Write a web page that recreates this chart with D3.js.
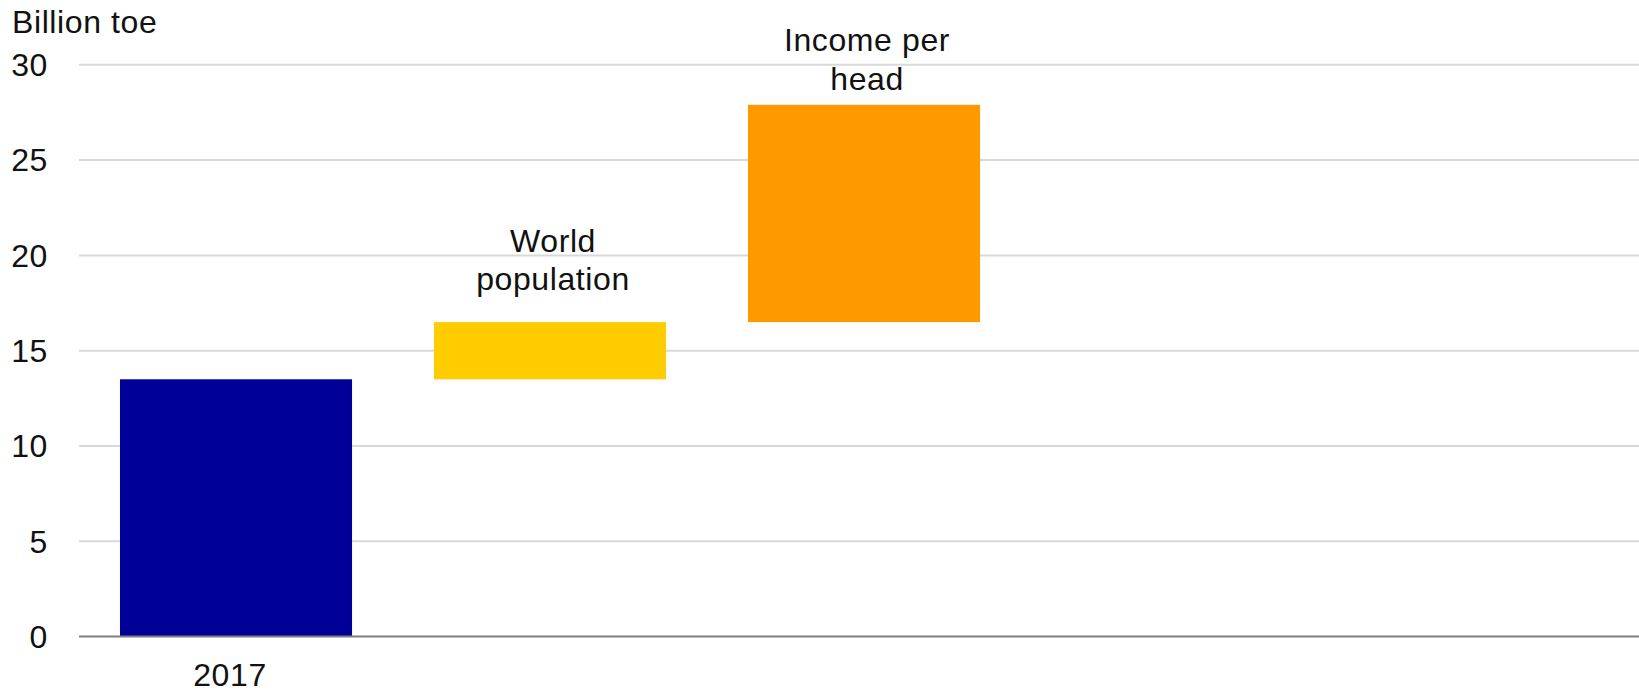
<!DOCTYPE html>
<html>
<head>
<meta charset="utf-8">
<script src="https://cdn.jsdelivr.net/npm/d3@7"></script>
<style>
  html, body { margin: 0; padding: 0; background: #fff; }
  svg text { font-family: "Liberation Sans", Arial, sans-serif; fill: #111; letter-spacing: 0.6px; }
</style>
</head>
<body>
<svg id="chart" width="1639" height="694"></svg>
<script>
// ---- data ----
const categories = ["2017", "World population", "Income per head", "c4", "c5"];
const barBase = [0, 13.5, 16.5];
const barTop = [13.5, 16.5, 27.9];
const barLabelsAbove = [null, ["World", "population"], ["Income per", "head"]];
const barLabelsBelow = ["2017", null, null];
const barColors = ["#000099", "#ffcc00", "#ff9900"];
const yTicks = [0, 5, 10, 15, 20, 25, 30];
const yTitle = "Billion toe";

(function () {
// ---- layout ----
const svg = d3.select("#chart");
const mLeft = 79, mRight = 1639, mTop = 64.8, mBottom = 636.6;
const FS = 32;

const x = d3.scaleBand().domain(categories).range([mLeft, mRight])
  .paddingInner(0.261).paddingOuter(0.1145).align(0.57);
const y = d3.scaleLinear().domain([0, 30]).range([mBottom, mTop]);

// gridlines
svg.append("g").selectAll("line").data(yTicks.filter(d => d !== 0)).join("line")
  .attr("x1", mLeft).attr("x2", mRight)
  .attr("y1", d => y(d)).attr("y2", d => y(d))
  .attr("stroke", "#d9d9d9").attr("stroke-width", 2);

// y axis labels
const yAxis = d3.axisLeft(y).tickValues(yTicks).tickSize(0).tickPadding(0);
const ga = svg.append("g").attr("transform", `translate(48,0)`).call(yAxis);
ga.select(".domain").remove();
ga.selectAll("text").attr("font-size", FS).attr("dy", "0.34em")
  .style("font-family", '"Liberation Sans", Arial, sans-serif').attr("fill", "#111");

svg.append("text").attr("x", 12).attr("y", 33).attr("font-size", FS).text(yTitle);

// bars
const bars = barTop.map((t, i) => ({ cat: categories[i], b: barBase[i], t, color: barColors[i] }));
svg.append("g").selectAll("rect").data(bars).join("rect")
  .attr("x", d => x(d.cat))
  .attr("width", x.bandwidth())
  .attr("y", d => y(d.t))
  .attr("height", d => y(d.b) - y(d.t))
  .attr("fill", d => d.color);

// x axis baseline
svg.append("line").attr("x1", mLeft).attr("x2", mRight)
  .attr("y1", y(0)).attr("y2", y(0))
  .attr("stroke", "#7f7f7f").attr("stroke-width", 2);

// labels above bars
const aboveGap = [0, 32, 15];
const lineH = 38.5;
barLabelsAbove.forEach((lines, i) => {
  if (!lines) return;
  const cx = x(categories[i]) + x.bandwidth() / 2 + 3;
  const baseY = y(barTop[i]) - aboveGap[i];
  const t = svg.append("text").attr("text-anchor", "middle").attr("font-size", FS);
  lines.forEach((ln, k) => {
    t.append("tspan").attr("x", cx).attr("y", baseY - (lines.length - 1 - k) * lineH).text(ln);
  });
});

// labels below axis
barLabelsBelow.forEach((lab, i) => {
  if (!lab) return;
  svg.append("text").attr("text-anchor", "middle").attr("font-size", FS)
    .attr("x", x(categories[i]) + x.bandwidth() / 2 - 6).attr("y", 686).text(lab);
});
})();
</script>
</body>
</html>
